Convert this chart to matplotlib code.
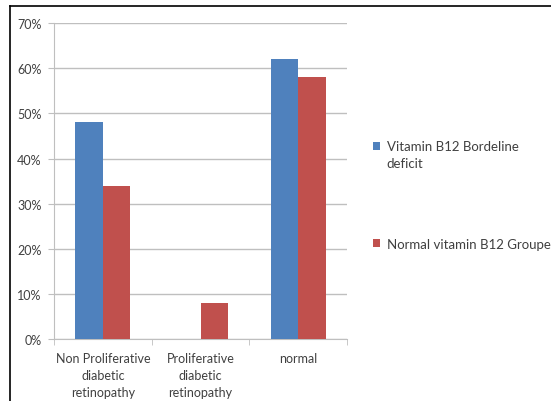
import matplotlib.pyplot as plt
import numpy as np
from matplotlib.lines import Line2D
from matplotlib.ticker import PercentFormatter

# values (percent)
categories = ["Non Proliferative\ndiabetic\nretinopathy", "Proliferative\ndiabetic\nretinopathy", "normal"]
borderline = [48, 0, 62]
normal_b12 = [34, 8, 58]
series_names = ["Vitamin B12 Bordeline", "Normal vitamin B12 Groupe"]
colors = ["#4F81BD", "#C0504D"]

plt.rcParams["font.family"] = ["Lato", "DejaVu Sans"]

fig = plt.figure(figsize=(5.51, 4.02), dpi=100)
ax = fig.add_axes([0.098, 0.154, 0.532, 0.786])

x = np.arange(len(categories))
w = 0.28
ax.bar(x - w / 2, borderline, w, color=colors[0], label=series_names[0], zorder=3)
ax.bar(x + w / 2, normal_b12, w, color=colors[1], label=series_names[1], zorder=3)

ax.set_xlim(-0.5, 2.5)
ax.set_ylim(0, 70)
ax.set_yticks(np.arange(0, 71, 10))
ax.yaxis.set_major_formatter(PercentFormatter(decimals=0))
ax.grid(axis="y", color="#BFBFBF", linewidth=1, zorder=0)

ax.set_xticks(x)
ax.set_xticklabels(categories, fontsize=9, color="#404040", linespacing=1.5)
ax.set_xticks([-0.5, 0.5, 1.5, 2.5], minor=True)
ax.tick_params(axis="x", which="major", length=0, pad=9)
ax.tick_params(axis="x", which="minor", length=4, color="#BFBFBF")
ax.tick_params(axis="y", length=4, color="#BFBFBF", labelsize=9, labelcolor="#404040", pad=5)

for s in ["top", "right"]:
    ax.spines[s].set_visible(False)
for s in ["left", "bottom"]:
    ax.spines[s].set_color("#BFBFBF")

leg = fig.legend(loc="upper left", bbox_to_anchor=(0.655, 0.678), frameon=False,
                 fontsize=9.5, handlelength=0.55, handleheight=0.55, handletextpad=0.5,
                 labelspacing=6.5, labelcolor="#404040")
# second line of the first legend entry
fig.text(386 / 551, 1 - 164 / 402, "deficit", fontsize=9.5, color="#404040", va="center")

# black frame on left and top edges
fig.add_artist(Line2D([10 / 551, 10 / 551], [0, 1 - 7 / 402], color="black", linewidth=1.2))
fig.add_artist(Line2D([10 / 551, 1], [1 - 7 / 402, 1 - 7 / 402], color="black", linewidth=1.2))

fig.savefig("out.png", dpi=100)
